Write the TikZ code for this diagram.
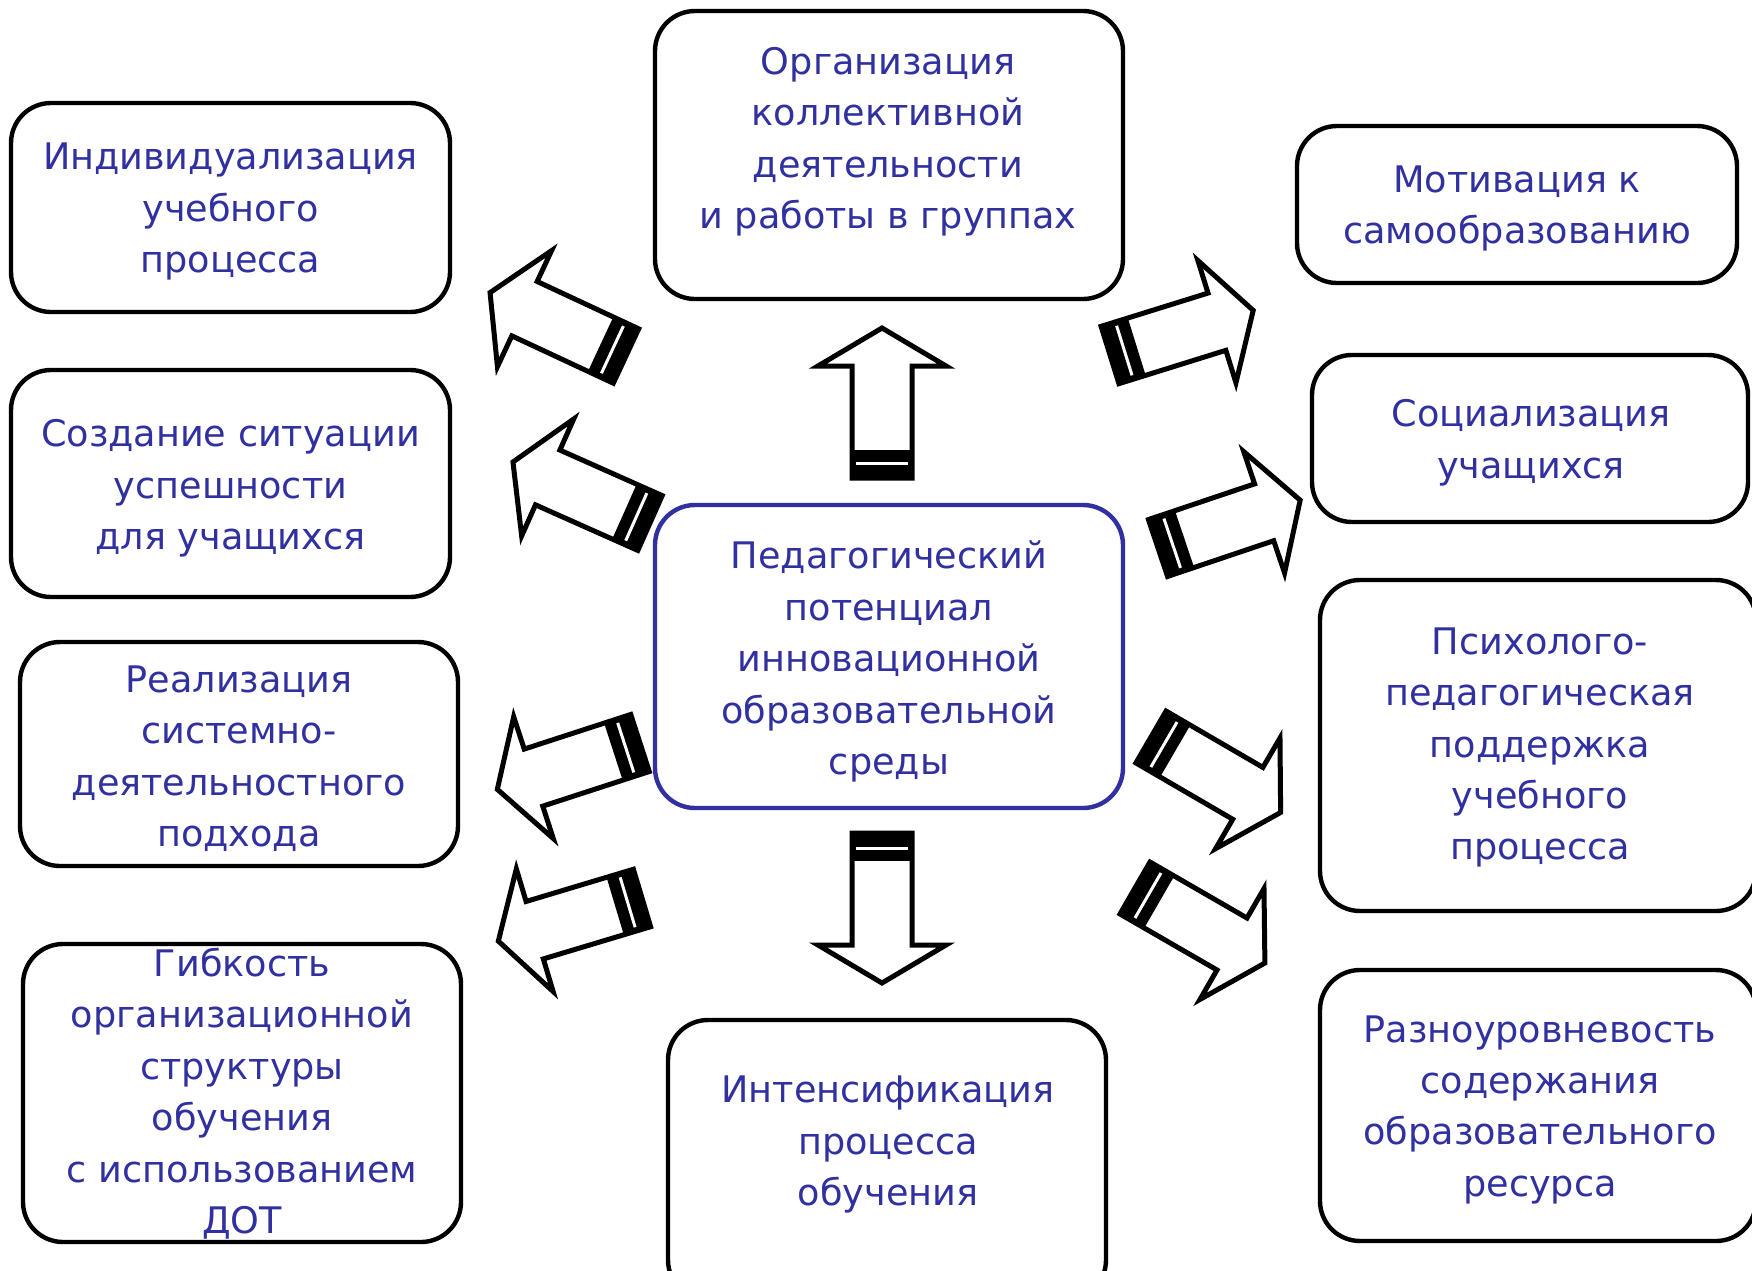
\documentclass[tikz,border=0pt]{standalone}
\usepackage{fontspec}
\setmainfont{DejaVu Sans}
\definecolor{txtblue}{RGB}{48,48,160}
\tikzset{
  box/.style={draw=black, line width=2.2pt, rounded corners=20pt, fill=white, inner sep=0pt},
  cbox/.style={box, draw=txtblue},
  txt/.style={text=txtblue, font=\fontsize{18.3}{25.7}\selectfont, align=center, inner sep=0pt, yshift=-1.8pt},
  blockarrow/.pic={
    \fill[white] (0,-30) -- (112,-30) -- (112,-64) -- (150,0) -- (112,64) -- (112,30) -- (0,30) -- cycle;
    \fill[black] (0,-31) rectangle (28,31);
    \draw[white, line width=1.5pt] (15,-26) -- (15,26);
    \draw[black, line width=2.5pt, line join=miter] (0,-30) -- (112,-30) -- (112,-64) -- (150,0) -- (112,64) -- (112,30) -- (0,30) -- cycle;
  }
}
\begin{document}
\begin{tikzpicture}[x=0.5pt,y=-0.5pt]
\useasboundingbox (0,0) rectangle (1752,1270);
\clip (0,0) rectangle (1752,1270);

% boxes
\node[box, minimum width=234pt, minimum height=144pt] (b1) at (889,155) {};
\node[box, minimum width=219.5pt, minimum height=104.5pt] (b2) at (230.5,207.5) {};
\node[box, minimum width=219.5pt, minimum height=113.5pt] (b3) at (230.5,483.5) {};
\node[box, minimum width=219pt, minimum height=112pt] (b4) at (239,754) {};
\node[box, minimum width=219pt, minimum height=149pt] (b5) at (242,1093) {};
\node[box, minimum width=219pt, minimum height=140pt] (b6) at (887,1160) {};
\node[box, minimum width=220pt, minimum height=78.5pt] (b7) at (1517,204.5) {};
\node[box, minimum width=218pt, minimum height=83.5pt] (b8) at (1530,438.5) {};
\node[box, minimum width=218pt, minimum height=165.5pt] (b9) at (1538,745.5) {};
\node[box, minimum width=218pt, minimum height=135.5pt] (b10) at (1538,1105.5) {};
\node[cbox, minimum width=234pt, minimum height=151.5pt] (b0) at (889,656.5) {};

% texts
\node[txt] (t1) at (888,138) {Организация\\коллективной\\деятельности\\и работы в группах};
\node[txt] (t2) at (230.5,208) {Индивидуализация\\учебного\\процесса};
\node[txt] (t3) at (230.5,485) {Создание ситуации\\успешности\\для учащихся};
\node[txt] (t4) at (239,755) {Реализация\\системно-\\деятельностного\\подхода};
\node[txt] (t5) at (242,1090) {Гибкость\\организационной\\структуры\\обучения\\с использованием\\ДОТ};
\node[txt] (t6) at (888,1141) {Интенсификация\\процесса\\обучения};
\node[txt] (t7) at (1517,205) {Мотивация к\\самообразованию};
\node[txt] (t8) at (1531,439) {Социализация\\учащихся};
\node[txt] (t9) at (1540,744) {Психолого-\\педагогическая\\поддержка\\учебного\\процесса};
\node[txt] (t10) at (1540,1106) {Разноуровневость\\содержания\\образовательного\\ресурса};
\node[txt] (t0) at (889,658) {Педагогический\\потенциал\\инновационной\\образовательной\\среды};

% block arrows
\pic[rotate=155] at (626,356) {blockarrow};
\pic[rotate=156] at (650,523) {blockarrow};
\pic[rotate=198] at (640,743) {blockarrow};
\pic[rotate=196.7] at (642,898) {blockarrow};
\pic[rotate=17.3] at (1110,355) {blockarrow};
\pic[rotate=18.6] at (1158,548) {blockarrow};
\pic[rotate=-30.2] at (1151,737) {blockarrow};
\pic[rotate=-30] at (1135,888) {blockarrow};
\pic[rotate=90] at (882,478) {blockarrow};
\pic[rotate=-90] at (882,833) {blockarrow};
\end{tikzpicture}
\end{document}
